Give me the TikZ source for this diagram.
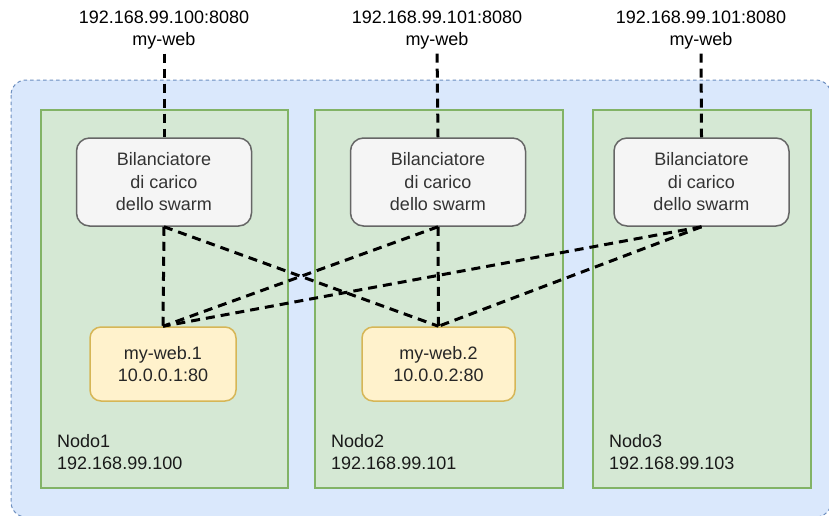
\documentclass[tikz,border=0pt]{standalone}
\usepackage{fontspec}
\setmainfont{Liberation Sans}
\definecolor{swarmFill}{HTML}{DAE8FC}
\definecolor{swarmLine}{HTML}{6C8EBF}
\definecolor{hostFill}{HTML}{D5E8D4}
\definecolor{hostLine}{HTML}{82B366}
\definecolor{lbFill}{HTML}{F5F5F5}
\definecolor{lbLine}{HTML}{666666}
\definecolor{lbText}{HTML}{333333}
\definecolor{taskFill}{HTML}{FFF2CC}
\definecolor{taskLine}{HTML}{D6B656}
\begin{document}
\begin{tikzpicture}[x=1pt,y=-1pt,
  every node/.style={font=\fontsize{18}{22.5}\selectfont},
  swarm/.style={fill=swarmFill, draw=swarmLine, line width=1pt,
    dash pattern=on 3.5pt off 3pt, rounded corners=15pt},
  host/.style={draw=hostLine, fill=hostFill, line width=1.5pt,
    anchor=north west, inner sep=0pt},
  lbbox/.style={draw=lbLine, fill=lbFill, rounded corners=13pt,
    line width=1.5pt, text=lbText, align=center,
    minimum width=175pt, minimum height=88pt, inner sep=0pt},
  taskbox/.style={draw=taskLine, fill=taskFill, rounded corners=11pt,
    line width=1.5pt, align=center, text=black!85,
    minimum height=74pt, inner sep=0pt},
  hostlabel/.style={anchor=west, align=left, inner sep=0pt, text=black!90},
  extlabel/.style={align=center, inner sep=0pt},
  link/.style={line width=3pt, dash pattern=on 9pt off 6pt}]
\useasboundingbox (0,0) rectangle (829,515);

% swarm area
\path[swarm] (11,80) rectangle (831,517);

% hosts
\node[host, minimum width=247pt, minimum height=378pt] (h1) at (40,109) {};
\node[host, minimum width=248pt, minimum height=378pt] (h2) at (314,109) {};
\node[host, minimum width=218pt, minimum height=378pt] (h3) at (592,109) {};

\node[hostlabel] (n1) at (57,452) {Nodo1\\192.168.99.100};
\node[hostlabel] (n2) at (331,452) {Nodo2\\192.168.99.101};
\node[hostlabel] (n3) at (609,452) {Nodo3\\192.168.99.103};

% load balancers
\node[lbbox] (lb1) at (164,182) {Bilanciatore\\di carico\\dello swarm};
\node[lbbox] (lb2) at (438,182) {Bilanciatore\\di carico\\dello swarm};
\node[lbbox] (lb3) at (701.5,182) {Bilanciatore\\di carico\\dello swarm};

% tasks
\node[taskbox, minimum width=146pt] (w1) at (163,364) {my-web.1\\10.0.0.1:80};
\node[taskbox, minimum width=153pt] (w2) at (438.5,364) {my-web.2\\10.0.0.2:80};

% published endpoints
\node[extlabel] (e1) at (164,30) {192.168.99.100:8080\\my-web};
\node[extlabel] (e2) at (437,30) {192.168.99.101:8080\\my-web};
\node[extlabel] (e3) at (701,30) {192.168.99.101:8080\\my-web};

% ingress routing
\draw[link, shorten <=4pt] (e1.south) -- (lb1.north);
\draw[link, shorten <=4pt] (e2.south) -- (lb2.north);
\draw[link, shorten <=4pt] (e3.south) -- (lb3.north);

\draw[link] (lb1.south) -- (w1.north);
\draw[link] (lb1.south) -- (w2.north);
\draw[link] (lb2.south) -- (w1.north);
\draw[link] (lb2.south) -- (w2.north);
\draw[link] (lb3.south) -- (w1.north);
\draw[link] (lb3.south) -- (w2.north);
\end{tikzpicture}
\end{document}
